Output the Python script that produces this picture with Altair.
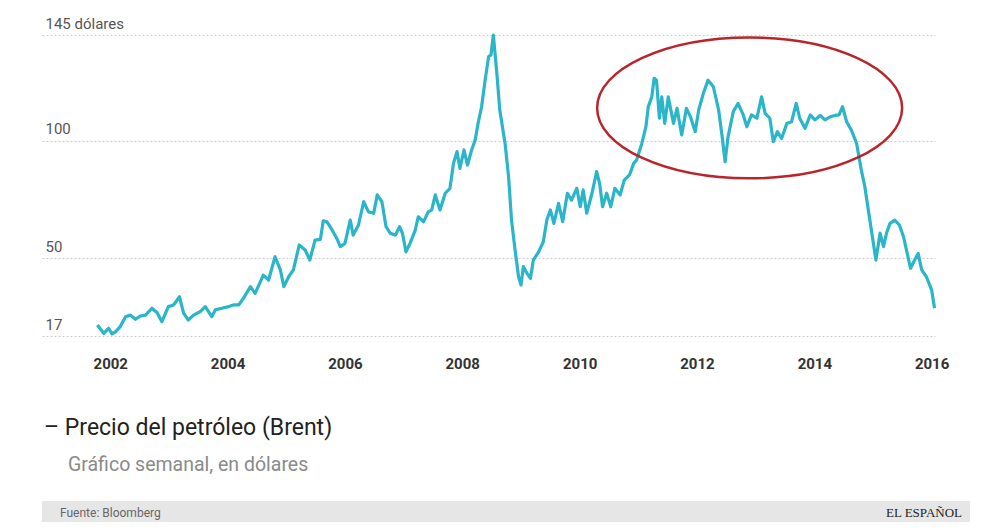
import altair as alt
import pandas as pd

# ---- data (decimal year, USD per barrel) ----
years = [
    2001.78, 2001.89, 2001.97, 2002.03, 2002.09, 2002.17, 2002.26, 2002.34, 2002.43, 2002.51,
    2002.60, 2002.71, 2002.80, 2002.88, 2002.99, 2003.08, 2003.18, 2003.25, 2003.33, 2003.42,
    2003.53, 2003.62, 2003.73, 2003.79, 2003.90, 2004.02, 2004.10, 2004.19, 2004.27, 2004.39,
    2004.47, 2004.61, 2004.70, 2004.81, 2004.90, 2004.96, 2005.04, 2005.12, 2005.22,
    2005.32, 2005.40, 2005.49, 2005.58, 2005.63, 2005.69, 2005.78, 2005.86, 2005.92, 2006.00,
    2006.09, 2006.14, 2006.23, 2006.32, 2006.40, 2006.49, 2006.55, 2006.63, 2006.70, 2006.77,
    2006.86, 2006.93, 2006.98, 2007.04, 2007.11, 2007.20, 2007.25, 2007.34, 2007.42, 2007.48,
    2007.54, 2007.62, 2007.71, 2007.79, 2007.85, 2007.91, 2007.96, 2008.03, 2008.09, 2008.16,
    2008.22, 2008.27, 2008.33, 2008.39, 2008.45, 2008.49, 2008.53, 2008.59, 2008.64,
    2008.73, 2008.79, 2008.84, 2008.90, 2008.96, 2009.00, 2009.04, 2009.10, 2009.16, 2009.21,
    2009.30, 2009.38, 2009.44, 2009.50, 2009.56, 2009.64, 2009.71, 2009.79, 2009.86, 2009.95,
    2010.01, 2010.06, 2010.12, 2010.21, 2010.29, 2010.34, 2010.39, 2010.46, 2010.53, 2010.60,
    2010.69, 2010.76, 2010.85, 2010.92, 2010.97, 2011.06, 2011.13, 2011.17, 2011.23, 2011.27,
    2011.31, 2011.36, 2011.40, 2011.45, 2011.51, 2011.60, 2011.66, 2011.74, 2011.82, 2011.89,
    2011.97, 2012.03, 2012.11,
    2012.19, 2012.28, 2012.37, 2012.43, 2012.48, 2012.53, 2012.62, 2012.70, 2012.79, 2012.85,
    2012.93, 2013.02, 2013.10, 2013.16, 2013.24, 2013.30, 2013.37, 2013.44, 2013.53, 2013.61,
    2013.69, 2013.75, 2013.84, 2013.93, 2014.01, 2014.10, 2014.18, 2014.27, 2014.35, 2014.42,
    2014.48, 2014.55, 2014.63, 2014.72, 2014.80, 2014.86, 2014.92, 2014.98, 2015.05, 2015.12,
    2015.18, 2015.23, 2015.29, 2015.37, 2015.45, 2015.52, 2015.57, 2015.64, 2015.71, 2015.77,
    2015.83, 2015.91, 2016.00, 2016.05,
]
prices = [
    21.7, 18.1, 20.3, 17.9, 18.8, 21.0, 25.2, 25.9, 24.1, 25.5,
    25.9, 28.8, 26.9, 23.1, 29.5, 30.2, 33.7, 26.7, 23.8, 25.9,
    27.3, 29.5, 25.2, 28.1, 28.8, 29.5, 30.2, 30.2, 33.0, 38.0,
    35.1, 42.9, 40.8, 50.7, 45.1, 38.0, 42.2, 45.1, 55.7,
    53.6, 49.3, 57.8, 58.1, 66.0, 65.6, 62.1, 58.5, 55.0, 56.4,
    66.3, 59.9, 64.2, 74.1, 69.8, 69.2, 77.0, 74.1, 63.5, 60.7,
    59.9, 63.5, 60.7, 52.8, 56.4, 62.1, 67.7, 65.6, 69.8, 70.6,
    77.0, 70.6, 77.7, 79.8, 90.4, 95.4, 88.3, 96.1, 89.7, 96.1,
    100.3, 107.4, 114.5, 125.8, 135.8, 136.5, 145.0, 128.7, 113.1,
    98.9, 84.7, 66.3, 53.6, 42.2, 38.7, 46.5, 43.7, 41.5, 49.3,
    52.8, 57.1, 66.3, 70.6, 64.9, 73.4, 65.6, 77.7, 74.8, 79.8,
    72.0, 79.1, 69.2, 77.7, 86.9, 81.9, 72.0, 77.7, 72.0, 79.8,
    77.0, 83.3, 85.5, 90.4, 91.8, 98.9, 106.0, 114.5, 118.7, 126.6,
    125.8, 109.6, 118.7, 107.4, 118.7, 107.4, 113.8, 102.5, 113.8, 110.2,
    103.9, 113.1, 120.2,
    125.8, 123.0, 113.1, 101.7, 91.1, 101.7, 112.4, 115.9, 111.0, 106.0,
    111.0, 109.6, 118.7, 111.7, 109.6, 99.6, 103.9, 101.0, 107.4, 108.1,
    115.9, 109.6, 105.3, 111.0, 108.9, 110.8, 108.9, 110.2, 110.8, 111.0,
    114.5, 108.1, 104.6, 98.9, 87.6, 80.5, 70.6, 60.7, 49.3, 60.7,
    55.0, 60.7, 64.9, 66.3, 64.2, 59.2, 53.6, 45.8, 49.3, 52.1,
    45.1, 42.2, 36.6, 28.8,
]

y_ticks = [17, 50, 100, 145]
x_tick_years = [2002, 2004, 2006, 2008, 2010, 2012, 2014, 2016]
x_domain = ["2000-11-02", "2016-01-22"]

highlight_center = {"fecha": "2012-11-24", "precio": 114}

series_label = "\u2013 Precio del petróleo (Brent)"
series_sub = "Gráfico semanal, en dólares"
source_text = "Fuente: Bloomberg"
brand_text = "EL ESPAÑOL"


def to_date(y):
    base = pd.Timestamp(int(y), 1, 1)
    return base + pd.Timedelta(days=(y - int(y)) * 365.25)


df = pd.DataFrame({"fecha": [to_date(y) for y in years], "precio": prices})

FONT = "Roboto"
W, H = 893, 301

x_enc = alt.X(
    "fecha:T",
    scale=alt.Scale(domain=x_domain),
    axis=alt.Axis(
        values=[alt.DateTime(year=y, month=1, date=1) for y in x_tick_years],
        format="%Y",
        title=None,
        domain=False,
        ticks=False,
        grid=False,
        labelFont=FONT,
        labelFontSize=15,
        labelFontWeight="bold",
        labelColor="#333333",
        labelPadding=20,
    ),
)
y_enc = alt.Y(
    "precio:Q",
    scale=alt.Scale(domain=[17, 145], nice=False, zero=False),
    axis=alt.Axis(
        values=y_ticks,
        labelExpr="datum.value == 145 ? '145 dólares' : datum.label",
        title=None,
        domain=False,
        ticks=False,
        grid=True,
        gridDash=[2, 2],
        gridColor="#cccccc",
        gridWidth=1,
        labelFont=FONT,
        labelFontSize=15,
        labelColor="#555555",
        labelAlign="left",
        labelBaseline="alphabetic",
        labelPadding=-3,
        labelOffset=-7,
    ),
)

line = alt.Chart(df).mark_line(color="#2ab6c8", strokeWidth=3.2, strokeJoin="round").encode(
    x=x_enc, y=y_enc
)

ellipse_df = pd.DataFrame([highlight_center])
ellipse = alt.Chart(ellipse_df).mark_point(
    shape="M -1 0 A 1 0.462 0 1 1 1 0 A 1 0.462 0 1 1 -1 0 Z",
    size=93025,
    filled=False,
    stroke="#b8252b",
    strokeWidth=2.5,
    opacity=1,
).encode(x="fecha:T", y="precio:Q")

txt_df = pd.DataFrame({"t": [series_label]})
title_txt = alt.Chart(txt_df).mark_text(
    align="left", baseline="middle", font=FONT, fontSize=23, color="#222222"
).encode(text="t:N", x=alt.value(2), y=alt.value(393))

sub_df = pd.DataFrame({"t": [series_sub]})
sub_txt = alt.Chart(sub_df).mark_text(
    align="left", baseline="middle", font=FONT, fontSize=19.5, color="#8a8a8a"
).encode(text="t:N", x=alt.value(26), y=alt.value(430))

band_df = pd.DataFrame({"t": ["footer"]})
band = alt.Chart(band_df).mark_rect(color="#e6e6e6").encode(
    x=alt.value(0), x2=alt.value(928), y=alt.value(466), y2=alt.value(500)
)

src_df = pd.DataFrame({"t": [source_text]})
src_txt = alt.Chart(src_df).mark_text(
    align="left", baseline="middle", font=FONT, fontSize=12, color="#666666"
).encode(text="t:N", x=alt.value(18), y=alt.value(478))

brand_df = pd.DataFrame({"t": [brand_text]})
brand_txt = alt.Chart(brand_df).mark_text(
    align="right", baseline="middle", font="Liberation Serif", fontSize=13, color="#222222"
).encode(text="t:N", x=alt.value(920), y=alt.value(478))

chart = (
    alt.layer(line, ellipse, title_txt, sub_txt, band, src_txt, brand_txt)
    .properties(
        width=W,
        height=H,
        padding={"left": 34, "top": 27, "right": 49, "bottom": 186},
        autosize=alt.AutoSizeParams(type="none"),
        background="white",
    )
    .configure_view(stroke=None)
)

chart.save("out.html", embed_options={"renderer": "svg", "actions": False})
